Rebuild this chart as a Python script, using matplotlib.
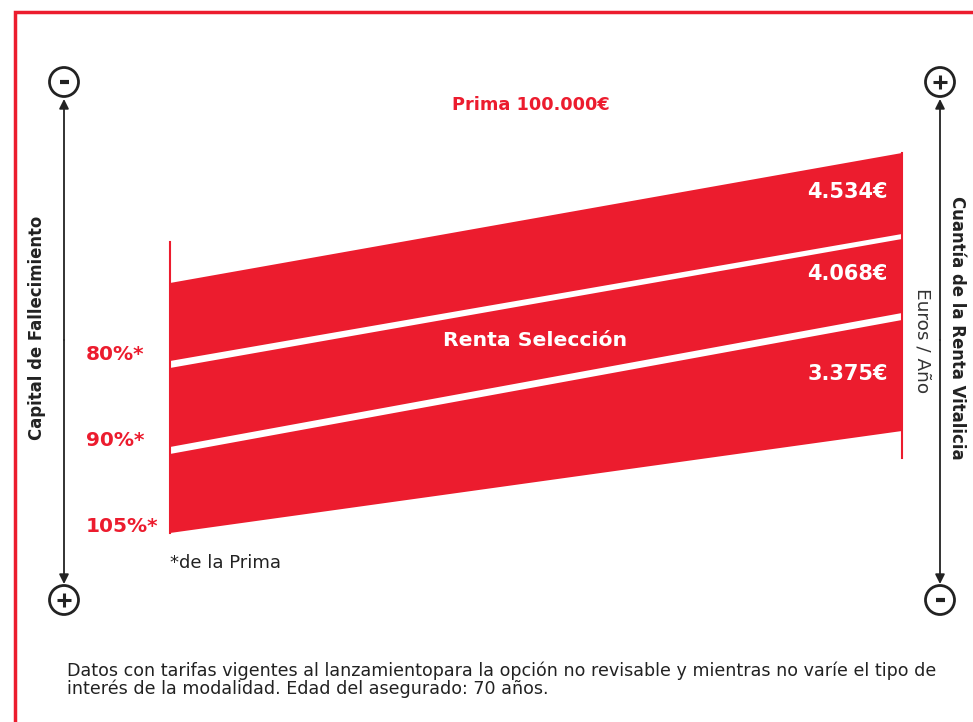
import matplotlib.pyplot as plt
from matplotlib.patches import Polygon, Circle

# Datos del gráfico
prima = "Prima 100.000€"
producto = "Renta Selección"
capital_pct = ["80%*", "90%*", "105%*"]
rentas = [4534, 4068, 3375]
rentas_txt = ["4.534€", "4.068€", "3.375€"]

borde_izq = [(283, 361), (368, 447), (454, 533)]
borde_der = [(153, 234), (239, 313), (320, 431)]

rojo = "#ec1c2e"
negro = "#222222"
x_izq, x_der = 170, 902

fig = plt.figure(figsize=(9.73, 7.22), dpi=100)
ax = fig.add_axes([0, 0, 1, 1])
ax.set_xlim(0, 973)
ax.set_ylim(722, 0)
ax.axis("off")

# marco rojo (solo arriba e izquierda)
ax.plot([15, 15, 973], [722, 12, 12], color=rojo, lw=2.5, solid_joinstyle="miter")

# bandas
for (a, b), (c, d) in zip(borde_izq, borde_der):
    ax.add_patch(Polygon([(x_izq, a), (x_der, c), (x_der, d), (x_izq, b)],
                         closed=True, facecolor=rojo, edgecolor="none"))
ax.plot([x_izq, x_izq], [242, borde_izq[-1][1]], color=rojo, lw=1.5)
ax.plot([x_der, x_der], [borde_der[0][0], 458], color=rojo, lw=1.5)

# textos de las bandas
for (c, d), txt in zip(borde_der, rentas_txt):
    ax.text(888, (c + d) / 2 - 2, txt, color="white", fontsize=15,
            fontweight="bold", ha="right", va="center")
for (a, b), txt in zip(borde_izq, capital_pct):
    ax.text(86, b - 6, txt, color=rojo, fontsize=14.5, fontweight="bold",
            ha="left", va="center")

ax.text(535, 340, producto, color="white", fontsize=14.7, fontweight="bold",
        ha="center", va="center")
ax.text(531, 105, prima, color=rojo, fontsize=12.8, fontweight="bold",
        ha="center", va="center")
ax.text(170, 563, "*de la Prima", color=negro, fontsize=13, ha="left", va="center")

# ejes con flechas
def eje(x, signo_arriba, signo_abajo):
    ax.annotate("", xy=(x, 99), xytext=(x, 340),
                arrowprops=dict(arrowstyle="-|>", color=negro, lw=1.3,
                                mutation_scale=14, shrinkA=0, shrinkB=0))
    ax.annotate("", xy=(x, 584), xytext=(x, 340),
                arrowprops=dict(arrowstyle="-|>", color=negro, lw=1.3,
                                mutation_scale=14, shrinkA=0, shrinkB=0))
    for y, signo in [(82, signo_arriba), (600, signo_abajo)]:
        ax.add_patch(Circle((x, y), 14.5, facecolor="white", edgecolor=negro, lw=2))
        if signo == "+":
            ax.plot([x - 7, x + 7], [y, y], color=negro, lw=2.2, solid_capstyle="butt")
            ax.plot([x, x], [y - 7, y + 7], color=negro, lw=2.2, solid_capstyle="butt")
        else:
            ax.plot([x - 4.5, x + 4.5], [y, y], color=negro, lw=3, solid_capstyle="butt")

eje(64, "-", "+")
eje(940, "+", "-")

ax.text(37, 328, "Capital de Fallecimiento", rotation=90, fontsize=11.9,
        fontweight="bold", color=negro, ha="center", va="center")
ax.text(957, 328, "Cuantía de la Renta Vitalicia", rotation=-90, fontsize=11.9,
        fontweight="bold", color=negro, ha="center", va="center")
ax.text(923, 341, "Euros / Año", rotation=-90, fontsize=13.3,
        color="#333333", ha="center", va="center")

ax.text(67, 680, "Datos con tarifas vigentes al lanzamientopara la opción no revisable "
        "y mientras no varíe el tipo de\ninterés de la modalidad. Edad del asegurado: 70 años.",
        fontsize=12.6, color=negro, ha="left", va="center", linespacing=0.95)

fig.savefig("out.png", dpi=100)
